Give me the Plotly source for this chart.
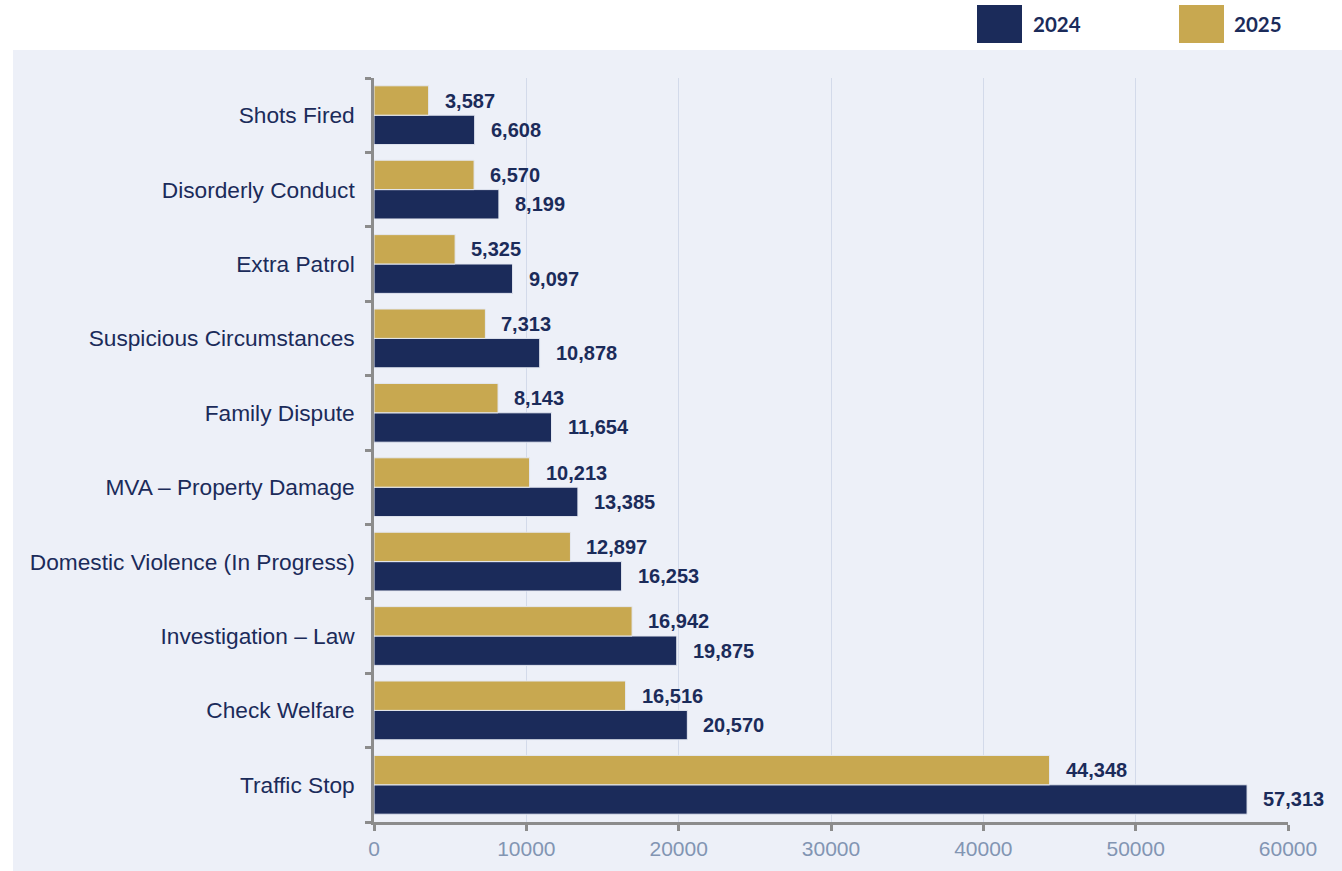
import plotly.graph_objects as go

# Data (bottom to top)
categories = ["Traffic Stop", "Check Welfare", "Investigation – Law",
              "Domestic Violence (In Progress)", "MVA – Property Damage",
              "Family Dispute", "Suspicious Circumstances", "Extra Patrol",
              "Disorderly Conduct", "Shots Fired"]
values_2024 = [57313, 20570, 19875, 16253, 13385, 11654, 10878, 9097, 8199, 6608]
values_2025 = [44348, 16516, 16942, 12897, 10213, 8143, 7313, 5325, 6570, 3587]
x_ticks = [0, 10000, 20000, 30000, 40000, 50000, 60000]

NAVY = "#1B2B5A"
GOLD = "#C8A850"
PANEL = "#EDF0F8"
W, H = 1342, 871
L, R, T, B = 374, 54, 78, 49
PW, PH = W - L - R, H - T - B


def px(x):
    return (x - L) / PW


def py(y):
    return (H - B - y) / PH


fig = go.Figure()
fig.add_trace(go.Bar(y=categories, x=values_2024, orientation="h", name="2024",
                     marker=dict(color=NAVY, line=dict(width=1, color="#E4E8F2"))))
fig.add_trace(go.Bar(y=categories, x=values_2025, orientation="h", name="2025",
                     marker=dict(color=GOLD, line=dict(width=1, color="#E4E8F2"))))

annotations = []
bw = (1 - 0.21) / 2
lab_font = dict(family="Liberation Sans, Arial", size=20, color=NAVY, weight="bold")
for i, (v24, v25) in enumerate(zip(values_2024, values_2025)):
    annotations.append(dict(x=v24, y=i - bw / 2, xref="x", yref="y", text=f"{v24:,}",
                            showarrow=False, xanchor="left", yanchor="middle", xshift=14,
                            font=lab_font))
    annotations.append(dict(x=v25, y=i + bw / 2, xref="x", yref="y", text=f"{v25:,}",
                            showarrow=False, xanchor="left", yanchor="middle", xshift=14,
                            font=lab_font))

# legend (custom)
shapes = [
    dict(type="rect", xref="paper", yref="paper", x0=px(13), x1=px(W + 5), y0=py(H + 5), y1=py(50),
         fillcolor=PANEL, line=dict(width=0), layer="below"),
    dict(type="rect", xref="paper", yref="paper", x0=px(977), x1=px(1022), y0=py(43), y1=py(5),
         fillcolor=NAVY, line=dict(width=0)),
    dict(type="rect", xref="paper", yref="paper", x0=px(1179), x1=px(1224), y0=py(43), y1=py(5),
         fillcolor=GOLD, line=dict(width=0)),
]
for name, xl in [("2024", 1031), ("2025", 1232)]:
    annotations.append(dict(x=px(xl), y=py(24), xref="paper", yref="paper", text=name,
                            showarrow=False, xanchor="left", yanchor="middle",
                            font=dict(family="Lato, Open Sans", size=20.5, color=NAVY, weight="bold")))

fig.update_layout(
    width=W, height=H,
    margin=dict(l=L, r=R, t=T, b=B, pad=0),
    paper_bgcolor="white",
    plot_bgcolor="rgba(0,0,0,0)",
    barmode="group", bargap=0.21, bargroupgap=0,
    showlegend=False,
    shapes=shapes,
    annotations=annotations,
    xaxis=dict(range=[0, 60000], tickvals=x_ticks, ticktext=[str(t) for t in x_ticks],
               showgrid=True, gridcolor="#D3DAEA", gridwidth=1,
               showline=True, linecolor="#8C8C8C", linewidth=2.5,
               ticks="outside", ticklen=6, tickwidth=2.5, tickcolor="#8C8C8C",
               tickfont=dict(family="Liberation Sans, Arial", size=21, color="#8295B3"),
               zeroline=False, fixedrange=True),
    yaxis=dict(categoryorder="array", categoryarray=categories, range=[-0.5, 9.5],
               showgrid=False, showline=True, linecolor="#8C8C8C", linewidth=2.5,
               ticks="outside", tickson="boundaries", ticklen=6, tickwidth=2.5,
               tickcolor="#8C8C8C", ticklabelstandoff=12,
               tickfont=dict(family="Liberation Sans, Arial", size=22.7, color=NAVY),
               fixedrange=True),
)

fig.write_html("out.html", config={"displayModeBar": False},
               post_script="document.body.style.margin='0px';")
